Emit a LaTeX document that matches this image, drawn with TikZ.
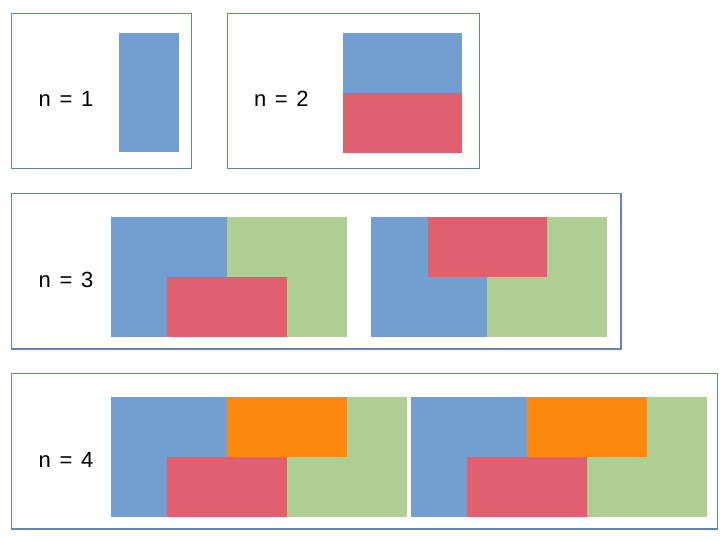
\documentclass[tikz,border=0pt]{standalone}
\usepackage{fontspec}
\setmainfont{Liberation Sans}
\definecolor{cblue}{RGB}{114,159,207}
\definecolor{cred}{RGB}{224,96,112}
\definecolor{cgreen}{RGB}{174,207,145}
\definecolor{corange}{RGB}{255,136,14}
\definecolor{cframe}{RGB}{100,130,180}
\newcommand{\xgap}{\hspace{2.5pt}}
\tikzset{
  frame/.style={draw=cframe,line width=1.1pt},
  lbl/.style={font=\fontsize{22}{26}\selectfont,inner sep=0pt},
  bl/.style={fill=cblue},
  rd/.style={fill=cred},
  gr/.style={fill=cgreen},
  og/.style={fill=corange}
}
\begin{document}
\begin{tikzpicture}[x=1pt,y=-1pt]
\useasboundingbox (0,0) rectangle (724,539);
\fill[white] (0,0) rectangle (724,539);
% frames
\draw[frame] (11.7,13.3) rectangle (191.5,168.7);
\draw[frame] (227.5,13.3) rectangle (479.3,168.7);
\draw[frame] (11.7,193.3) rectangle (621,349);
\draw[frame] (11.7,373.3) rectangle (717.7,529);
% labels
\node[lbl] (l1) at (66,99) {n\xgap{} = \xgap{}1};
\node[lbl] (l2) at (281.3,99) {n\xgap{} = \xgap{}2};
\node[lbl] (l3) at (66,280) {n\xgap{} = \xgap{}3};
\node[lbl] (l4) at (66,460) {n\xgap{} = \xgap{}4};
% n = 1
\path[bl] (119,32.5) rectangle (179,152.3);
% n = 2
\path[bl] (342.7,33.3) rectangle (462.3,92.8);
\path[rd] (342.7,92.8) rectangle (462.3,152.7);
% n = 3 left
\path[bl] (111,216.7) rectangle (227,336.7);
\path[gr] (227,216.7) rectangle (346.7,336.7);
\path[rd] (166.7,276.7) rectangle (286.7,336.7);
% n = 3 right
\path[bl] (371,216.7) rectangle (487.3,336.7);
\path[gr] (487.3,216.7) rectangle (607.3,336.7);
\path[rd] (427.5,216.7) rectangle (546.7,276.7);
% n = 4 left
\path[bl] (111,396.7) rectangle (227,516.7);
\path[og] (227,396.7) rectangle (347,456.7);
\path[gr] (347,396.7) rectangle (406.7,456.7);
\path[gr] (286.7,456.7) rectangle (406.7,516.7);
\path[rd] (166.7,456.7) rectangle (286.7,516.7);
% n = 4 right
\path[bl] (411,396.7) rectangle (527.3,516.7);
\path[og] (527.3,396.7) rectangle (646.7,456.7);
\path[gr] (646.7,396.7) rectangle (706.7,456.7);
\path[gr] (587,456.7) rectangle (706.7,516.7);
\path[rd] (467,456.7) rectangle (587,516.7);
\end{tikzpicture}
\end{document}
